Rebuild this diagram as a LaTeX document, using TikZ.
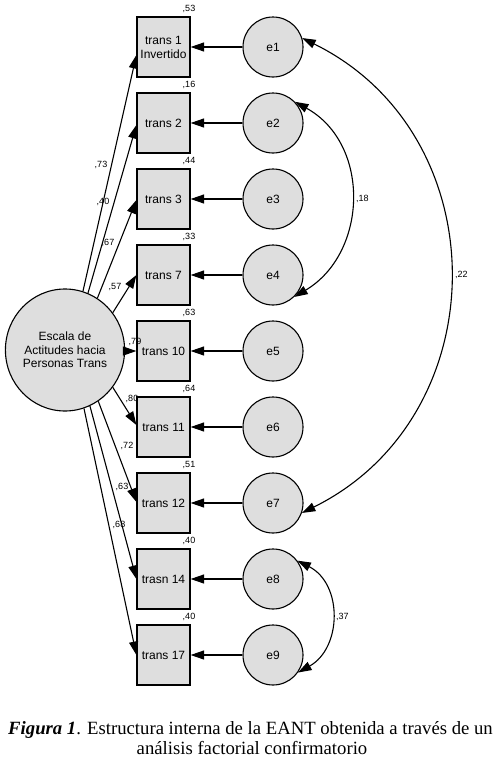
\documentclass[tikz,border=0pt]{standalone}
\usepackage{fontspec}
\setmainfont{Liberation Serif}
\newfontfamily\arialf{Liberation Sans}
\usetikzlibrary{arrows.meta,shapes.geometric,calc}
\definecolor{boxfill}{RGB}{222,222,222}
\begin{document}
\begin{tikzpicture}[x=1pt,y=-1pt,
  obs/.style={draw, line width=1.2pt, fill=boxfill, minimum width=53pt, minimum height=60pt, inner sep=0pt, align=center, font=\arialf\fontsize{12}{14}\selectfont},
  err/.style={draw, circle, line width=1.1pt, fill=boxfill, minimum size=60pt, inner sep=0pt, font=\arialf\fontsize{12}{14}\selectfont},
  latent/.style={draw, ellipse, line width=1.1pt, fill=boxfill, minimum width=108pt, minimum height=122pt, inner sep=0pt, align=center, font=\arialf\fontsize{12}{13.5}\selectfont},
  conn/.style={line width=1.1pt, -{Triangle[length=13.5pt,width=9pt]}},
  cov/.style={line width=1.1pt, {Triangle[length=13.5pt,width=9pt]}-{Triangle[length=13.5pt,width=9pt]}},
  lab/.style={font=\arialf\fontsize{9}{10}\selectfont, inner sep=0pt},
  capt/.style={font=\fontsize{18.7}{20}\selectfont, inner sep=0pt, anchor=base},
]
\useasboundingbox (0,0) rectangle (502,763);

% latent
\node[latent] (lat) at (65,350) {Escala de\\Actitudes hacia\\Personas Trans};

% observed boxes
\node[obs] (b1) at (163.5,47) {trans 1\\Invertido};
\node[obs] (b2) at (163.5,123) {trans 2};
\node[obs] (b3) at (163.5,199) {trans 3};
\node[obs] (b4) at (163.5,275) {trans 7};
\node[obs] (b5) at (163.5,351) {trans 10};
\node[obs] (b6) at (163.5,427) {trans 11};
\node[obs] (b7) at (163.5,503) {trans 12};
\node[obs] (b8) at (163.5,579) {trasn 14};
\node[obs] (b9) at (163.5,655) {trans 17};

% errors
\foreach \i/\y in {1/47,2/123,3/199,4/275,5/351,6/427,7/503,8/579,9/655}{
  \node[err] (e\i) at (273,\y) {e\i};
  \draw[conn] (e\i) -- (b\i.east);
}

% R^2 labels
\node[lab] (r1) at (189,8.5) {,53};
\node[lab] (r2) at (189,84.5) {,16};
\node[lab] (r3) at (189,160.5) {,44};
\node[lab] (r4) at (189,236.5) {,33};
\node[lab] (r5) at (189,312.5) {,63};
\node[lab] (r6) at (189,388.5) {,64};
\node[lab] (r7) at (189,464.5) {,51};
\node[lab] (r8) at (189,540.5) {,40};
\node[lab] (r9) at (189,616.5) {,40};

% loadings
\draw[conn] (lat.73.7) -- ($(b1.west)+(0,8)$);
\draw[conn] (lat.68.2) -- ($(b2.west)+(0,2)$);
\draw[conn] (lat.58.7) -- ($(b3.west)+(0,1)$);
\draw[conn] (lat.38.8) -- (b4.west);
\draw[conn] (lat.-1) -- (b5.west);
\draw[conn] (lat.-38.8) -- ($(b6.west)+(0,-2)$);
\draw[conn] (lat.-57.9) -- ($(b7.west)+(0,-1)$);
\draw[conn] (lat.-66.4) -- (b8.west);
\draw[conn] (lat.-72.5) -- (b9.west);

\node[lab] (l1) at (101,165) {,73};
\node[lab] (l2) at (103,202) {,40};
\node[lab] (l3) at (108,243) {,67};
\node[lab] (l4) at (115,287) {,57};
\node[lab] (l5) at (135,342) {,79};
\node[lab] (l6) at (132,399) {,80};
\node[lab] (l7) at (127,446) {,72};
\node[lab] (l8) at (122,487) {,63};
\node[lab] (l9) at (119,525) {,68};

% covariances
\draw[cov] (e1.17) .. controls (499,135) and (498,416) .. (e7.-19);
\draw[cov] (e2.44) .. controls (371,144) and (368,253) .. (e4.-46);
\draw[cov] (e8.37) .. controls (343,584) and (342,648) .. (e9.-35);
\node[lab, anchor=west] (c1) at (455,275) {,22};
\node[lab, anchor=west] (c2) at (356,199) {,18};
\node[lab, anchor=west] (c3) at (336,617) {,37};

% caption
\node[capt] (cap1) at (250.5,734) {\textbf{\textit{Figura 1}}. Estructura interna de la EANT obtenida a través de un};
\node[capt] (cap2) at (252,754) {análisis factorial confirmatorio};
\end{tikzpicture}
\end{document}
